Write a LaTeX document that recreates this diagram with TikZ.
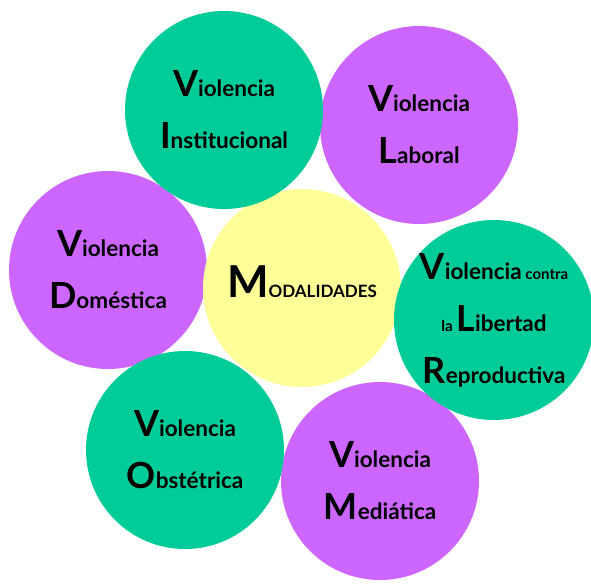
\documentclass[tikz,border=0pt]{standalone}
\usepackage{fontspec}
\setmainfont{Lato}
\usetikzlibrary{positioning}
\definecolor{verde}{RGB}{0,204,153}
\definecolor{morado}{RGB}{204,102,255}
\definecolor{amarillo}{RGB}{255,255,153}
\newcommand{\inicial}[1]{{\fontsize{36}{36}\selectfont #1}}
\newcommand{\chica}[1]{{\fontsize{15}{15}\selectfont #1}}
\newcommand{\versal}[1]{{\fontsize{17}{17}\selectfont #1}}

\begin{document}
\begin{tikzpicture}[x=1pt,y=-1pt,
    modalidad/.style={circle,inner sep=0pt,minimum size=198pt,align=center,
        font=\fontsize{22.5}{52}\selectfont\bfseries},
    verdecirc/.style={modalidad,fill=verde},
    moradocirc/.style={modalidad,fill=morado},
    centro/.style={modalidad,fill=amarillo}]
    \useasboundingbox (0,0) rectangle (591,584);
    \node[moradocirc] (domestica) at (108,270) {\inicial{V}iolencia\\\inicial{D}oméstica};
    \node[moradocirc] (laboral) at (419,125) {\inicial{V}iolencia\\\inicial{L}aboral};
    \node[moradocirc] (mediatica) at (380,481) {\inicial{V}iolencia\\\inicial{M}ediática};
    \node[centro] (modalidades) at (302,288) {{\fontsize{44}{44}\selectfont M}\versal{ODALIDADES}\rule[-12pt]{0pt}{12pt}};
    \node[verdecirc] (institucional) at (224,110) {\inicial{V}iolencia\\\inicial{I}nstitucional};
    \node[verdecirc] (libertad) at (494,320) {\inicial{V}iolencia\,\chica{contra}\\\chica{la}\,\inicial{L}ibertad\\\inicial{R}eproductiva};
    \node[verdecirc] (obstetrica) at (185,450) {\inicial{V}iolencia\\\inicial{O}bstétrica};
\end{tikzpicture}
\end{document}
